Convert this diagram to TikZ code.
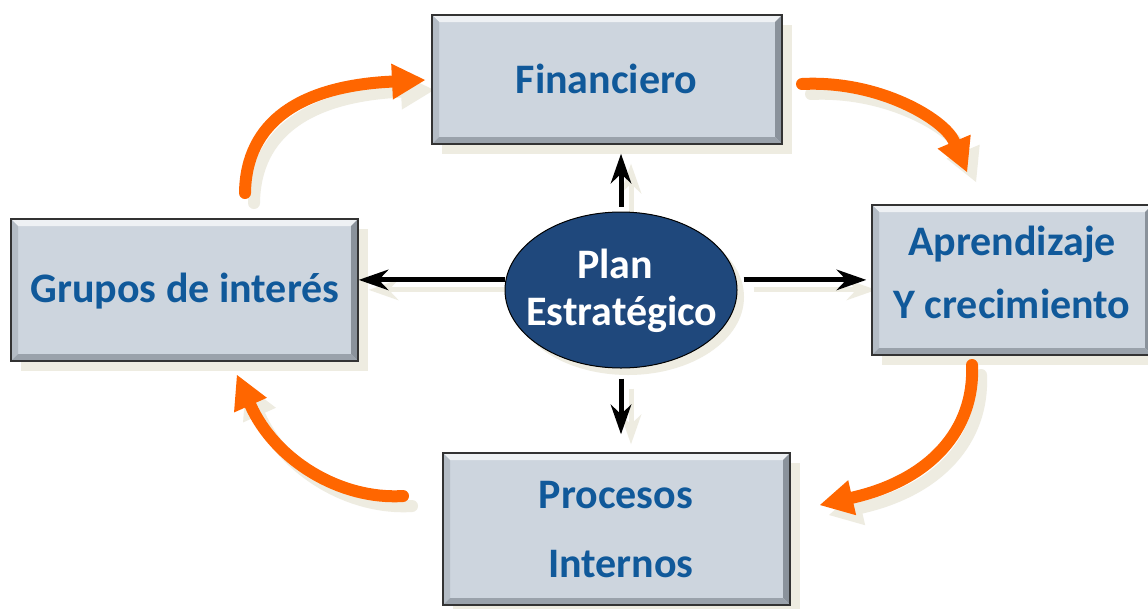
\documentclass[tikz,border=0pt]{standalone}
\usepackage{fontspec}
\setmainfont{Carlito}
\usetikzlibrary{arrows.meta,shapes.geometric,calc}
\definecolor{boxfill}{HTML}{CDD5DE}
\definecolor{txtblue}{HTML}{10599A}
\definecolor{ellblue}{HTML}{1F487C}
\definecolor{orng}{HTML}{FF6600}
\definecolor{shad}{HTML}{EEECE1}
\definecolor{bevtop}{HTML}{EEF1F4}
\definecolor{bevleft}{HTML}{B4BCC5}
\definecolor{bevright}{HTML}{8A929B}
\definecolor{bevbot}{HTML}{9AA2AB}
\pgfdeclarelayer{bg}
\pgfsetlayers{bg,main}
\tikzset{
  bevel/.style={path picture={
    \fill[bevtop] (path picture bounding box.north west) -- (path picture bounding box.north east)
      -- ([shift={(-7pt,-7pt)}]path picture bounding box.north east) -- ([shift={(7pt,-7pt)}]path picture bounding box.north west) -- cycle;
    \fill[bevleft] (path picture bounding box.north west) -- (path picture bounding box.south west)
      -- ([shift={(7pt,7pt)}]path picture bounding box.south west) -- ([shift={(7pt,-7pt)}]path picture bounding box.north west) -- cycle;
    \fill[bevright] (path picture bounding box.north east) -- (path picture bounding box.south east)
      -- ([shift={(-7pt,7pt)}]path picture bounding box.south east) -- ([shift={(-7pt,-7pt)}]path picture bounding box.north east) -- cycle;
    \fill[bevbot] (path picture bounding box.south west) -- (path picture bounding box.south east)
      -- ([shift={(-7pt,7pt)}]path picture bounding box.south east) -- ([shift={(7pt,7pt)}]path picture bounding box.south west) -- cycle;
  }},
  card/.style={rectangle, draw=black!80, line width=1.6pt, fill=boxfill, inner sep=0pt, bevel},
  cardsh/.style={rectangle, fill=shad, inner sep=0pt},
  lbl/.style={inner sep=0pt, anchor=base, font=\fontsize{42}{42}\selectfont\bfseries, text=txtblue},
  wlbl/.style={lbl, text=white},
  blk/.style={line width=5pt, -{Stealth[length=30pt,width=21pt,inset=10pt,line width'=0pt]}},
  orarr/.style={line width=12pt, line cap=round, -{Triangle[length=33pt,width=36pt,line width'=0pt]}},
}
\begin{document}
\begin{tikzpicture}[x=1pt,y=-1pt]
\useasboundingbox (0,0) rectangle (1148,608);
\clip (0,0) rectangle (1148,608);

% boxes
\node[card, minimum width=350pt, minimum height=129pt] (fin) at (607,79.5) {};
\node[card, minimum width=280pt, minimum height=150pt] (apr) at (1012,280) {};
\node[card, minimum width=347pt, minimum height=142pt] (grp) at (184.5,290) {};
\node[card, minimum width=347pt, minimum height=152pt] (proc) at (616.5,529) {};
\node[ellipse, draw=black, line width=1pt, fill=ellblue, minimum width=232pt, minimum height=156pt, inner sep=0pt] (plan) at (621,290) {};

% shadows
\begin{pgfonlayer}{bg}
\fill[white] (0,0) rectangle (1148,608);
\node[cardsh, minimum width=350pt, minimum height=129pt] (finsh) at (617,89.5) {};
\node[cardsh, minimum width=280pt, minimum height=150pt] (aprsh) at (1022,290) {};
\node[cardsh, minimum width=347pt, minimum height=142pt] (grpsh) at (194.5,300) {};
\node[cardsh, minimum width=347pt, minimum height=152pt] (procsh) at (626.5,539) {};
\node[ellipse, fill=shad, minimum width=232pt, minimum height=156pt, inner sep=0pt] (plansh) at (628,297) {};
\begin{scope}[transform canvas={xshift=10pt,yshift=-10pt}, draw=shad, color=shad]
\draw[blk, shorten <=5pt, shorten >=9pt] (plan.north) -- (plan.north |- fin.south);
\draw[blk, shorten <=10pt, shorten >=18pt] (plan.south) -- (plan.south |- proc.north);
\draw[blk] (plan.175) -- (plan.175 -| grp.east);
\draw[blk, shorten <=7pt, shorten >=5pt] (plan.5) -- (plan.5 -| apr.west);
\end{scope}
\begin{scope}[transform canvas={xshift=9pt,yshift=-10pt}, draw=shad, color=shad]
\draw[orarr] (245,193) .. controls (246,122) and (300,86) .. (425,80);
\draw[orarr] (802,84) .. controls (880,80) and (945,120) .. (967,172);
\draw[orarr] (972,365) .. controls (975,430) and (930,480) .. (820,505);
\draw[orarr] (403,496) .. controls (340,500) and (275,460) .. (237,375);
\end{scope}
\end{pgfonlayer}

% black arrows
\draw[blk, shorten <=5pt, shorten >=9pt] (plan.north) -- (plan.north |- fin.south);
\draw[blk, shorten <=10pt, shorten >=18pt] (plan.south) -- (plan.south |- proc.north);
\draw[blk] (plan.175) -- (plan.175 -| grp.east);
\draw[blk, shorten <=7pt, shorten >=5pt] (plan.5) -- (plan.5 -| apr.west);

% orange cycle arrows
\coordinate (a1s) at (245,193); \coordinate (a1e) at (425,80);
\coordinate (a2s) at (802,84);  \coordinate (a2e) at (967,172);
\coordinate (a3s) at (972,365); \coordinate (a3e) at (820,505);
\coordinate (a4s) at (403,496); \coordinate (a4e) at (237,375);
\draw[orarr, draw=orng, color=orng] (a1s) .. controls (246,122) and (300,86) .. (a1e);
\draw[orarr, draw=orng, color=orng] (a2s) .. controls (880,80) and (945,120) .. (a2e);
\draw[orarr, draw=orng, color=orng] (a3s) .. controls (975,430) and (930,480) .. (a3e);
\draw[orarr, draw=orng, color=orng] (a4s) .. controls (340,500) and (275,460) .. (a4e);

% labels
\node[lbl] (finT) at (606.5,93) {Financiero};
\node[lbl] (grpT) at (185,302) {Grupos de interés};
\node[lbl] (aprT1) at (1012,255) {Aprendizaje};
\node[lbl] (aprT2) at (1012,318) {Y crecimiento};
\node[lbl] (procT1) at (616,508) {Procesos};
\node[lbl] (procT2) at (621,577) {Internos};
\node[wlbl] (planT1) at (615,278) {Plan};
\node[wlbl] (planT2) at (622,325) {Estratégico};
\end{tikzpicture}
\end{document}
